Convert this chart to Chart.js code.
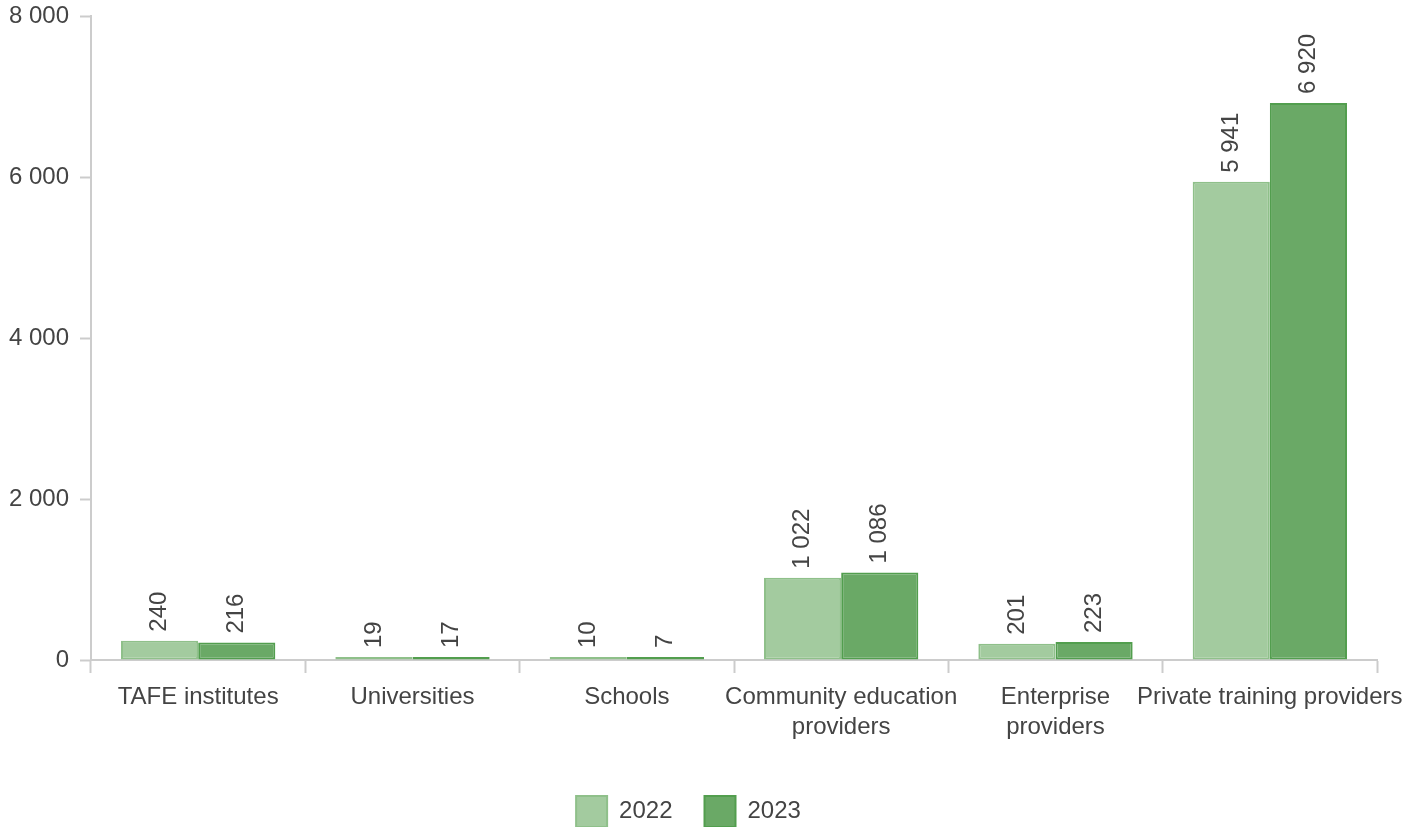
<!DOCTYPE html>
<html>
<head>
<meta charset="utf-8">
<script src="https://cdn.jsdelivr.net/npm/chart.js@4/dist/chart.umd.min.js"></script>
<style>
  html, body { margin: 0; padding: 0; background: #fff; overflow: hidden; }
  #wrap { width: 1422px; height: 837px; position: relative; }
</style>
</head>
<body>
<div id="wrap"><canvas id="c"></canvas></div>
<script>
const categories = [
  "TAFE institutes",
  "Universities",
  "Schools",
  ["Community education", "providers"],
  ["Enterprise", "providers"],
  "Private training providers"
];
const seriesNames = ["2022", "2023"];
const values2022 = [240, 19, 10, 1022, 201, 5941];
const values2023 = [216, 17, 7, 1086, 223, 6920];
const yTicks = [0, 2000, 4000, 6000, 8000];

const fontFamily = '"Liberation Sans", Arial, Helvetica, sans-serif';
const textColor = '#444444';
const axisColor = '#cccccc';
const FS = 24;

function fmt(v) {
  return String(v).replace(/\B(?=(\d{3})+(?!\d))/g, ' ');
}

const barLabels = {
  id: 'barLabels',
  afterDatasetsDraw(chart) {
    const ctx = chart.ctx;
    ctx.save();
    ctx.font = FS + 'px ' + fontFamily;
    ctx.fillStyle = textColor;
    ctx.textAlign = 'left';
    ctx.textBaseline = 'middle';
    chart.data.datasets.forEach((ds, di) => {
      const meta = chart.getDatasetMeta(di);
      meta.data.forEach((el, i) => {
        ctx.save();
        ctx.translate(el.x, el.y - 9);
        ctx.rotate(-Math.PI / 2);
        ctx.fillText(fmt(ds.data[i]), 0, 0);
        ctx.restore();
      });
    });
    ctx.restore();
  }
};

new Chart(document.getElementById('c'), {
  type: 'bar',
  data: {
    labels: categories,
    datasets: [
      {
        label: seriesNames[0],
        data: values2022,
        backgroundColor: '#a3cb9f',
        borderColor: '#8fc08a',
        borderWidth: 2,
        borderSkipped: false,
        minBarLength: 3,
        categoryPercentage: 0.72,
        barPercentage: 1.0
      },
      {
        label: seriesNames[1],
        data: values2023,
        backgroundColor: '#6aa966',
        borderColor: '#529e4e',
        borderWidth: 2,
        borderSkipped: false,
        minBarLength: 3,
        categoryPercentage: 0.72,
        barPercentage: 1.0
      }
    ]
  },
  options: {
    responsive: true,
    maintainAspectRatio: false,
    animation: false,
    devicePixelRatio: 1,
    layout: { padding: { left: 0, right: 45, top: 16, bottom: 0 } },
    plugins: {
      tooltip: { enabled: false },
      legend: {
        position: 'bottom',
        labels: {
          boxWidth: 31,
          boxHeight: 31,
          padding: 32,
          color: textColor,
          font: { family: fontFamily, size: FS }
        }
      }
    },
    scales: {
      x: {
        grid: {
          display: true,
          drawOnChartArea: false,
          drawTicks: true,
          tickLength: 13,
          tickWidth: 2,
          tickColor: axisColor,
          offset: true
        },
        border: { display: true, color: axisColor, width: 2 },
        ticks: {
          color: textColor,
          font: { family: fontFamily, size: FS, lineHeight: 1.25 },
          padding: 9,
          maxRotation: 0,
          minRotation: 0,
          autoSkip: false
        },
        afterFit(scale) { scale.height = 104; }
      },
      y: {
        min: 0,
        max: 8000,
        afterBuildTicks(scale) { scale.ticks = yTicks.map(v => ({ value: v })); },
        grid: {
          display: true,
          drawOnChartArea: false,
          drawTicks: true,
          tickLength: 11,
          tickWidth: 2,
          tickColor: axisColor
        },
        border: { display: true, color: axisColor, width: 2 },
        ticks: {
          color: textColor,
          font: { family: fontFamily, size: FS },
          padding: 11,
          callback: (v) => fmt(v)
        },
        afterFit(scale) {
          scale.width = 91;
          scale.paddingTop = 0;
          scale.paddingBottom = 0;
        }
      }
    }
  },
  plugins: [barLabels]
});
</script>
</body>
</html>
